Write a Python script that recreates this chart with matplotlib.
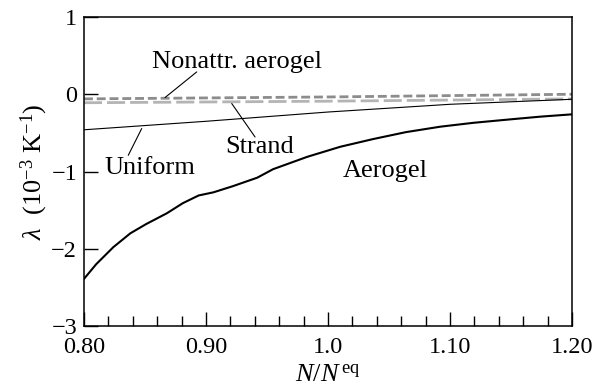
import matplotlib.pyplot as plt
from matplotlib.ticker import MultipleLocator, FixedLocator

plt.rcParams['font.family'] = ['Liberation Serif', 'DejaVu Serif']
plt.rcParams['mathtext.fontset'] = 'custom'
plt.rcParams['mathtext.rm'] = 'Liberation Serif'
plt.rcParams['mathtext.it'] = 'Liberation Serif:italic'

# Aerogel curve
aero_x = [0.800, 0.810, 0.824, 0.838, 0.851, 0.868, 0.881, 0.894, 0.906, 0.922,
          0.942, 0.955, 0.983, 1.010, 1.037, 1.064, 1.092, 1.119, 1.146, 1.174,
          1.200]
aero_y = [-2.39, -2.20, -1.98, -1.80, -1.68, -1.54, -1.41, -1.31, -1.27, -1.19,
          -1.08, -0.97, -0.81, -0.68, -0.58, -0.49, -0.42, -0.37, -0.33, -0.29,
          -0.26]

# Uniform
unif_x = [0.80, 0.90, 1.00, 1.10, 1.20]
unif_y = [-0.46, -0.35, -0.23, -0.13, -0.065]

# Nonattr. aerogel (short dash) and Strand (long dash)
nonattr_x = [0.80, 1.00, 1.20]
nonattr_y = [-0.06, -0.035, 0.0]
strand_x = [0.80, 1.00, 1.20]
strand_y = [-0.11, -0.09, -0.06]

xticks = [0.80, 0.90, 1.0, 1.10, 1.20]
xticklabels = ['0.80', '0.90', '1.0', '1.10', '1.20']
yticks = [1, 0, -1, -2, -3]
yticklabels = ['1', '0', '\u22121', '\u22122', '\u22123']

fig = plt.figure(figsize=(6.06, 3.90), dpi=100)
ax = fig.add_axes([0.1386, 0.1641, 0.8053, 0.7923])

ax.plot(strand_x, strand_y, color='#b4b4b4', lw=2.0, dashes=(6.5, 1.8))
ax.plot(nonattr_x, nonattr_y, color='#8c8c8c', lw=2.0, dashes=(3.2, 1.4))
ax.plot(unif_x, unif_y, color='black', lw=0.8)
ax.plot(aero_x, aero_y, color='black', lw=1.5)

ax.set_xlim(0.80, 1.20)
ax.set_ylim(-3, 1)
ax.xaxis.set_major_locator(FixedLocator(xticks))
ax.set_xticklabels(xticklabels)
ax.xaxis.set_minor_locator(MultipleLocator(0.02))
ax.yaxis.set_major_locator(FixedLocator(yticks))
ax.set_yticklabels(yticklabels)

ax.tick_params(which='major', direction='in', length=10, width=1.0,
               labelsize=17.5, top=False, right=False)
ax.tick_params(which='minor', direction='in', length=7, width=1.0,
               top=False, right=False)
ax.tick_params(axis='y', which='minor', left=False)
ax.tick_params(axis='x', pad=8)
ax.tick_params(axis='y', pad=5)
for s in ax.spines.values():
    s.set_linewidth(1.1)

ax.set_xlabel(r'$N/N^{\,\mathrm{eq}}$', fontsize=19, labelpad=5)
ax.set_ylabel(r'$\lambda$  (10$^{-3}$ K$^{-1}$)', fontsize=19, labelpad=1)

# leader lines
line_kw = dict(arrowstyle='-', lw=0.8, color='black', shrinkA=0, shrinkB=0)
ax.annotate('', xy=(0.8664, -0.043), xytext=(0.8924, 0.289), arrowprops=line_kw)
ax.annotate('', xy=(0.9211, -0.120), xytext=(0.9402, -0.553), arrowprops=line_kw)
ax.annotate('', xy=(0.8473, -0.444), xytext=(0.8363, -0.790), arrowprops=line_kw)

# labels
ax.text(0.9254, 0.414, 'Nonattr. aerogel', fontsize=19, ha='center', va='center')
ax.text(0.944, -0.686, 'Strand', fontsize=19, ha='center', va='center')
ax.text(0.854, -0.958, 'Uniform', fontsize=19, ha='center', va='center')
ax.text(1.047, -0.99, 'Aerogel', fontsize=19, ha='center', va='center')

fig.savefig('out.png', dpi=100)
